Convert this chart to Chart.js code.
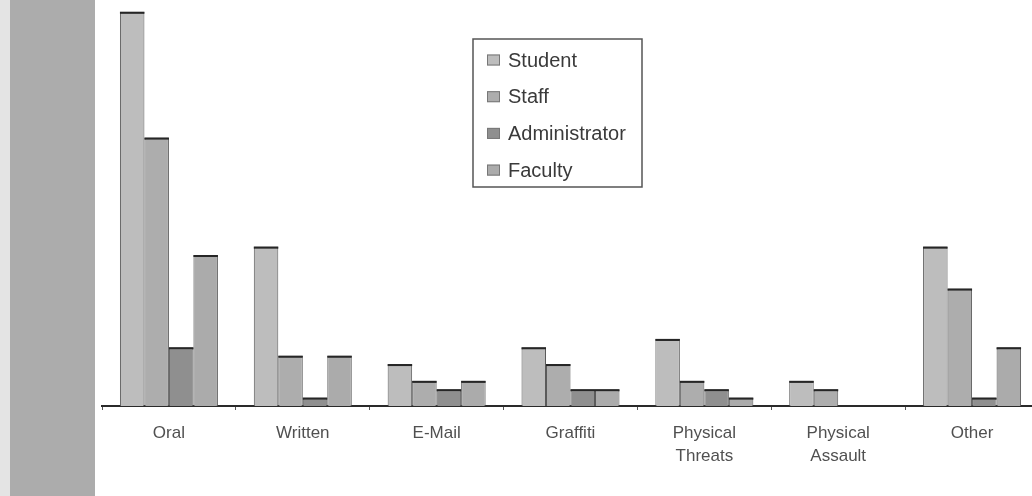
<!DOCTYPE html>
<html>
<head>
<meta charset="utf-8">
<script src="https://cdn.jsdelivr.net/npm/chart.js@4.4.1/dist/chart.umd.min.js"></script>
<style>
  html, body { margin: 0; padding: 0; background: #ffffff; overflow: hidden; }
  #wrap { position: relative; width: 1040px; height: 496px; }
</style>
</head>
<body>
<div id="wrap"><canvas id="c"></canvas></div>
<script>
// Incident types and counts per reporting group
const categories = ['Oral', 'Written', 'E-Mail', 'Graffiti', ['Physical', 'Threats'], ['Physical', 'Assault'], 'Other'];
const seriesNames = ['Student', 'Staff', 'Administrator', 'Faculty'];
const studentValues = [47, 19, 5, 7, 8, 3, 19];
const staffValues = [32, 6, 3, 5, 3, 2, 14];
const administratorValues = [7, 1, 2, 2, 2, 0, 1];
const facultyValues = [18, 6, 3, 2, 1, 0, 7];

const seriesColors = ['#bdbdbd', '#adadad', '#8f8f8f', '#ababab'];
const FONT = '"Liberation Sans", Arial, sans-serif';

// Grey strip down the left margin
const marginStrip = {
  id: 'marginStrip',
  beforeDraw(chart) {
    const ctx = chart.ctx;
    ctx.save();
    ctx.fillStyle = '#e4e4e4';
    ctx.fillRect(0, 0, 10, chart.height);
    ctx.fillStyle = '#acacac';
    ctx.fillRect(10, 0, 85, chart.height);
    ctx.restore();
  }
};

// Dark cap along the top of every bar
const barCaps = {
  id: 'barCaps',
  afterDatasetsDraw(chart) {
    const ctx = chart.ctx;
    ctx.save();
    ctx.fillStyle = '#262626';
    chart.data.datasets.forEach((ds, i) => {
      chart.getDatasetMeta(i).data.forEach((bar, j) => {
        if (!ds.data[j]) return;
        const half = bar.width / 2;
        ctx.fillRect(bar.x - half, bar.y, bar.width, 2);
      });
    });
    ctx.restore();
  }
};

// Boxed legend placed over the plot
const boxedLegend = {
  id: 'boxedLegend',
  afterDraw(chart) {
    const ctx = chart.ctx;
    const x = 473, y = 39, w = 169, h = 148;
    ctx.save();
    ctx.fillStyle = '#ffffff';
    ctx.fillRect(x, y, w, h);
    ctx.strokeStyle = '#555555';
    ctx.lineWidth = 1.5;
    ctx.strokeRect(x, y, w, h);
    ctx.font = '20px ' + FONT;
    ctx.textBaseline = 'middle';
    chart.data.datasets.forEach((ds, i) => {
      const cy = 60 + i * 36.7;
      ctx.fillStyle = ds.backgroundColor;
      ctx.fillRect(487, cy - 5.5, 13, 11);
      ctx.strokeStyle = '#777777';
      ctx.lineWidth = 1;
      ctx.strokeRect(487.5, cy - 5, 12, 10);
      ctx.fillStyle = '#3a3a3a';
      ctx.fillText(ds.label, 508, cy + 1);
    });
    ctx.restore();
  }
};

const seriesValues = [studentValues, staffValues, administratorValues, facultyValues];

new Chart(document.getElementById('c'), {
  type: 'bar',
  data: {
    labels: categories,
    datasets: seriesNames.map((name, i) => ({
      label: name,
      data: seriesValues[i],
      backgroundColor: seriesColors[i],
      borderColor: '#5a5a5a',
      borderWidth: { top: 2, left: 1, right: 1, bottom: 0 },
      borderSkipped: false,
      categoryPercentage: 0.732,
      barPercentage: 1.0
    }))
  },
  options: {
    responsive: true,
    maintainAspectRatio: false,
    animation: false,
    layout: { padding: { left: 102, right: 1, top: 0, bottom: 0 } },
    plugins: {
      legend: { display: false },
      tooltip: { enabled: false }
    },
    scales: {
      x: {
        offset: true,
        grid: {
          display: true,
          offset: true,
          drawOnChartArea: false,
          drawTicks: true,
          tickLength: 4,
          tickWidth: 1,
          tickColor: '#555555'
        },
        border: { display: true, color: '#2a2a2a', width: 2 },
        ticks: {
          color: '#505050',
          padding: 12,
          maxRotation: 0,
          autoSkip: false,
          font: { family: FONT, size: 17, lineHeight: 1.35 }
        },
        afterFit(scale) { scale.height = 90; }
      },
      y: {
        display: false,
        min: 0,
        max: 48.4
      }
    }
  },
  plugins: [marginStrip, barCaps, boxedLegend]
});
</script>
</body>
</html>
